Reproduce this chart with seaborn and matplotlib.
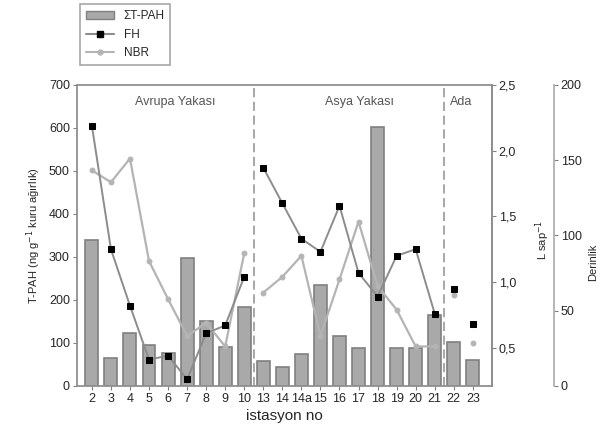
import pandas as pd
import seaborn as sns
import matplotlib.pyplot as plt
import matplotlib.ticker as mticker
from matplotlib.patches import Patch
from matplotlib.lines import Line2D
import numpy as np

# istasyon verileri
istasyon = ['2', '3', '4', '5', '6', '7', '8', '9', '10', '13', '14', '14a',
            '15', '16', '17', '18', '19', '20', '21', '22', '23']
tpah = [340, 66, 123, 94, 77, 298, 152, 91, 184, 58, 45, 74,
        235, 116, 87, 603, 87, 87, 165, 102, 60]
fh = [2.19, 1.25, 0.82, 0.41, 0.44, 0.26, 0.61, 0.67, 1.04, 1.87, 1.60, 1.33,
      1.23, 1.58, 1.07, 0.89, 1.20, 1.25, 0.76, 0.95, 0.68]
nbr = [1.85, 1.76, 1.94, 1.16, 0.87, 0.59, 0.69, 0.51, 1.22, 0.92, 1.04, 1.20,
       0.59, 1.02, 1.46, 0.97, 0.79, 0.51, 0.51, 0.90, 0.54]
# bölge grupları (çizgiler bölge içinde bağlanır)
grup = ['Avrupa'] * 9 + ['Asya'] * 10 + ['Ada1', 'Ada2']
bolgeler = ['Avrupa Yakası', 'Asya Yakası', 'Ada']

df = pd.DataFrame({'istasyon': istasyon, 'tpah': tpah, 'fh': fh,
                   'nbr': nbr, 'grup': grup})
df['x'] = np.arange(len(df))

sns.set_style('white')
plt.rcParams['font.family'] = ['Liberation Sans', 'DejaVu Sans']

fig = plt.figure(figsize=(6.05, 4.38), dpi=100)
ax = fig.add_axes([0.127, 0.119, 0.686, 0.687])

sns.barplot(data=df, x='istasyon', y='tpah', color='#a9a9a9', saturation=1,
            width=0.68, edgecolor='#808080', linewidth=1.2, ax=ax, zorder=2)
ax.set_ylim(0, 700)
ax.set_xlim(-0.79, 21.0)
ax.set_yticks(range(0, 701, 100))
ax.set_xlabel('istasyon no', fontsize=11, labelpad=3)
ax.set_ylabel('T-PAH (ng g$^{-1}$ kuru ağırlık)', fontsize=8, labelpad=4)
ax.tick_params(axis='both', labelsize=9, length=3, color='#808080',
               direction='out', bottom=True, left=True, pad=2)
for s in ax.spines.values():
    s.set_color('#909090')
    s.set_linewidth(1.3)

# oran ekseni
ax2 = ax.twinx()
sns.lineplot(data=df, x='x', y='nbr', units='grup', estimator=None,
             color='#b4b4b4', linewidth=1.6, marker='o', markersize=3.5,
             markeredgecolor='#b4b4b4', ax=ax2, zorder=3)
sns.lineplot(data=df, x='x', y='fh', units='grup', estimator=None,
             color='#8c8c8c', linewidth=1.4, marker='s', markersize=4.5,
             markerfacecolor='black', markeredgecolor='black', ax=ax2, zorder=4)
ax2.set_ylim(0.21, 2.5)
ax2.set_yticks([0.5, 1.0, 1.5, 2.0, 2.5])
ax2.yaxis.set_major_formatter(mticker.FuncFormatter(lambda v, p: f'{v:.1f}'.replace('.', ',')))
ax2.set_ylabel('L sap$^{-1}$', fontsize=8)
ax2.yaxis.set_label_coords(1.10, 0.485)
ax2.tick_params(axis='y', labelsize=9, length=3, color='#808080', right=True, pad=2)
for s in ax2.spines.values():
    s.set_visible(False)
ax2.spines['right'].set_visible(True)
ax2.spines['right'].set_color('#909090')
ax2.spines['right'].set_linewidth(1.3)
ax2.set_xlabel('')

# derinlik ekseni
ax3 = ax.twinx()
ax3.set_ylim(0, 200)
ax3.set_yticks(range(0, 201, 50))
ax3.spines['right'].set_position(('axes', 1.149))
for s in ax3.spines.values():
    s.set_visible(False)
ax3.spines['right'].set_visible(True)
ax3.spines['right'].set_color('#b0b0b0')
ax3.spines['right'].set_linewidth(1.3)
ax3.set_ylabel('Derinlik', fontsize=8)
ax3.yaxis.set_label_coords(1.232, 0.41)
ax3.tick_params(axis='y', labelsize=9, length=3, color='#808080', right=True, pad=2)

# bölge ayırıcıları
for xv in [8.5, 18.5]:
    ax.axvline(xv, color='#909090', linestyle=(0, (6, 3)), linewidth=1.1, zorder=1)
for name, xc in zip(bolgeler, [4.36, 14.07, 19.4]):
    ax.text(xc, 660, name, ha='center', va='center', fontsize=9, color='#555555')

handles = [Patch(facecolor='#a9a9a9', edgecolor='#808080', label='ΣT-PAH'),
           Line2D([], [], color='#8c8c8c', marker='s', markerfacecolor='black',
                  markeredgecolor='black', markersize=4.5, label='FH'),
           Line2D([], [], color='#b4b4b4', marker='o', markersize=3.5, label='NBR')]
leg = fig.legend(handles=handles, loc='upper left', bbox_to_anchor=(0.132, 0.99),
                 borderaxespad=0, fontsize=8.5, frameon=True, fancybox=False,
                 edgecolor='#909090', handlelength=2.4, labelspacing=0.55,
                 borderpad=0.5)
leg.get_frame().set_linewidth(1.2)

fig.savefig('out.png', dpi=100)
